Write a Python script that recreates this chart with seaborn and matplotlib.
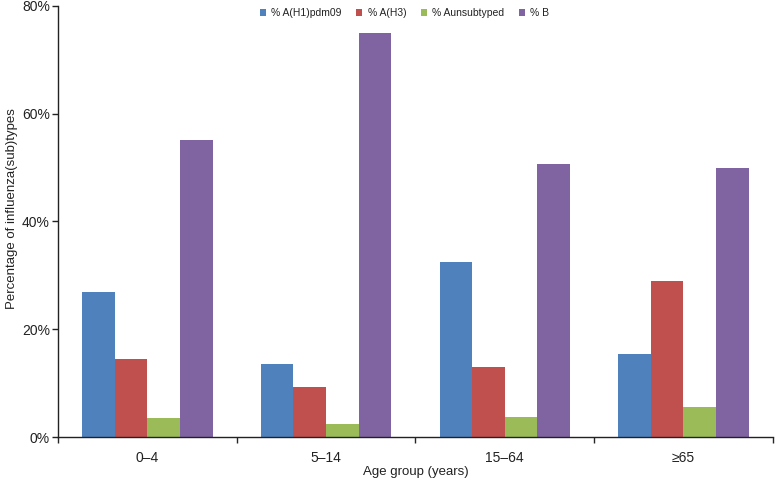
import matplotlib
matplotlib.use("Agg")
import matplotlib.pyplot as plt
import seaborn as sns
import pandas as pd
from matplotlib.ticker import FixedLocator, PercentFormatter

# data (percent of influenza (sub)types)
age_groups = ['0–4', '5–14', '15–64', '≥65']
series_names = ['% A(H1)pdm09', '% A(H3)', '% Aunsubtyped', '% B']
pct_h1 = [27.0, 13.5, 32.5, 15.4]
pct_h3 = [14.4, 9.3, 13.0, 28.9]
pct_unsub = [3.5, 2.4, 3.7, 5.6]
pct_b = [55.1, 75.0, 50.6, 50.0]
colors = ['#4F81BD', '#C0504D', '#9BBB59', '#8064A2']

rows = []
for name, vals in zip(series_names, [pct_h1, pct_h3, pct_unsub, pct_b]):
    for age, v in zip(age_groups, vals):
        rows.append({"Age": age, "Type": name, "Pct": v})
df = pd.DataFrame(rows)

sns.set_style("white")
plt.rcParams['font.family'] = ['Liberation Sans', 'DejaVu Sans']

fig = plt.figure(figsize=(7.75, 4.84), dpi=100)
ax = fig.add_axes([0.075, 0.097, 0.922, 0.891])

sns.barplot(data=df, x="Age", y="Pct", hue="Type", hue_order=series_names,
            order=age_groups, palette=colors, width=0.73, linewidth=0,
            saturation=1, ax=ax)

ax.set_xlim(-0.5, 3.5)
ax.set_ylim(0, 80)
ax.yaxis.set_major_locator(FixedLocator([0, 20, 40, 60, 80]))
ax.yaxis.set_major_formatter(PercentFormatter(decimals=0))
ax.tick_params(axis='y', length=4, width=1, direction='out', labelsize=10,
               colors='#222222', left=True, pad=2)

# tick marks on category boundaries, labels at centres
ax.set_xticks([-0.5, 0.5, 1.5, 2.5, 3.5])
ax.set_xticklabels([])
ax.tick_params(axis='x', which='major', length=4, width=1, direction='out',
               bottom=True)
ax.set_xticks(range(len(age_groups)), minor=True)
ax.set_xticklabels(age_groups, minor=True)
ax.tick_params(axis='x', which='minor', length=0, pad=10, labelsize=10,
               labelcolor='#222222')

for s in ['top', 'right']:
    ax.spines[s].set_visible(False)
for s in ['left', 'bottom']:
    ax.spines[s].set_color('#222222')
    ax.spines[s].set_linewidth(1)

ax.set_xlabel("Age group (years)", fontsize=9.5, color='#222222')
ax.set_ylabel("Percentage of influenza(sub)types", fontsize=9.5,
              color='#222222')
ax.xaxis.set_label_coords(0.5, -0.066)
ax.yaxis.set_label_coords(-0.056, 0.53)

handles, labels = ax.get_legend_handles_labels()
ax.legend(handles, labels, loc='upper center', bbox_to_anchor=(0.522, 1.003),
          bbox_transform=fig.transFigure, ncol=4, frameon=False, fontsize=7.5,
          handlelength=0.6, handleheight=0.6, handletextpad=0.5,
          columnspacing=1.4, labelcolor='#222222')

fig.savefig("out.png", dpi=100)
